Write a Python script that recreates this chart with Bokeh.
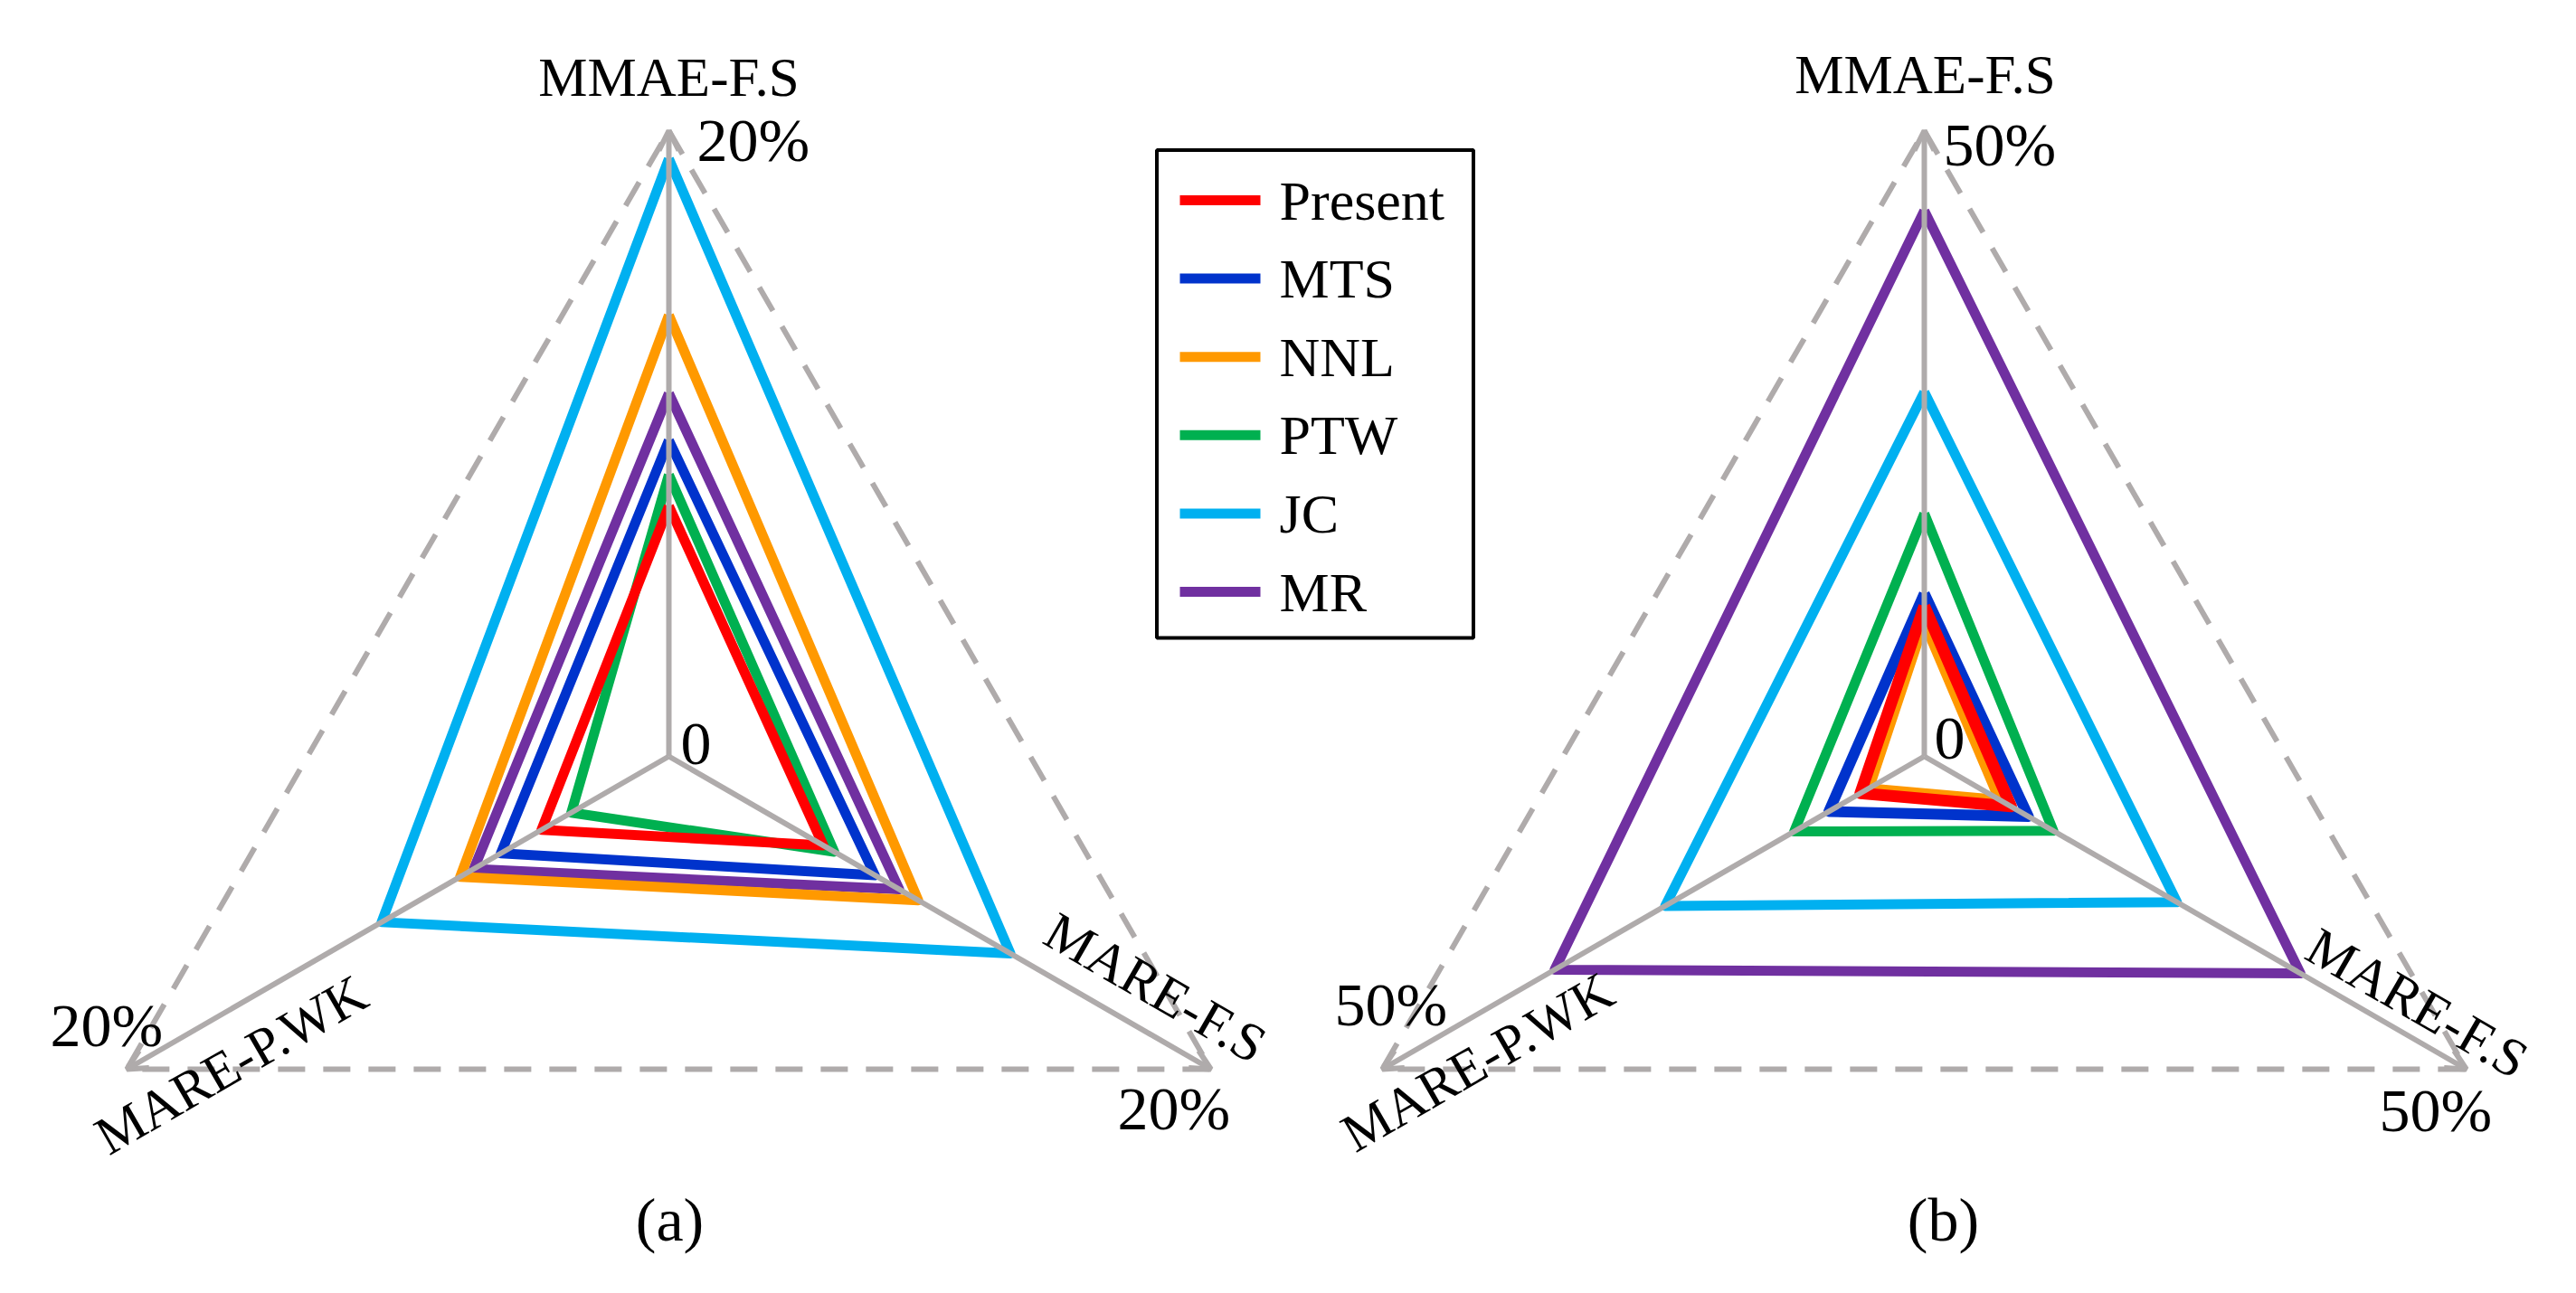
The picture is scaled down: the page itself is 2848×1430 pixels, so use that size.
import numpy as np
from bokeh.plotting import figure
from bokeh.models import Range1d, Arrow, OpenHead
from bokeh.core.properties import value
from bokeh.embed import file_html
from bokeh.resources import INLINE

# ---------------- data ----------------
axis_labels = ["MMAE-F.S", "MARE-F.S", "MARE-P.WK"]
series = ["Present", "MTS", "NNL", "PTW", "JC", "MR"]
colors = ["#FF0000", "#0033CC", "#FF9900", "#00B050", "#00B0F0", "#7030A0"]

# chart (a): values in %, order [MMAE-F.S, MARE-F.S, MARE-P.WK]
a_present = [8.0, 5.7, 4.7]
a_mts = [10.1, 7.6, 6.2]
a_nnl = [14.1, 9.2, 7.7]
a_ptw = [9.0, 6.1, 3.6]
a_jc = [19.1, 12.6, 10.6]
a_mr = [11.6, 8.5, 7.2]
a_max = 20
a_ticks = ["0", "20%"]

# chart (b)
b_present = [12.0, 8.0, 5.9]
b_mts = [13.0, 9.6, 8.8]
b_nnl = [10.5, 6.8, 5.0]
b_ptw = [19.4, 11.9, 12.0]
b_jc = [29.1, 23.3, 23.9]
b_mr = [43.6, 34.7, 34.1]
b_max = 50
b_ticks = ["0", "50%"]

captions = ["(a)", "(b)"]

# ---------------- layout ----------------
H = 1430
PW, PH = 2832, 1414
FONT = value("Liberation Serif")
GRAY = "#AFABAB"
ANGLES = np.deg2rad([90, -30, 210])


def Y(y):  # page pixel row -> data y
    return H - y


p = figure(width=PW, height=PH, x_range=Range1d(0, PW), y_range=Range1d(H - PH, H),
           output_backend="svg", toolbar_location=None, min_border=0,
           background_fill_color="white", border_fill_color="white")
p.xaxis.visible = False
p.yaxis.visible = False
p.grid.visible = False
p.outline_line_color = None

charts = [
    dict(cx=739, cy=836, R=692, vmax=a_max, ticks=a_ticks, caption=captions[0],
         data=[a_present, a_mts, a_nnl, a_ptw, a_jc, a_mr],
         widths=[11, 11, 11, 11, 11, 11],
         title=(739, 85), rot_fs=(1277, 1092), rot_pwk=(255, 1177),
         tick_top=(770, 154), tick_bl=(55, 1133), tick_br=(1235, 1225), zero=(752, 822),
         cap=(740, 1348)),
    dict(cx=2127, cy=836, R=692, vmax=b_max, ticks=b_ticks, caption=captions[1],
         data=[b_present, b_mts, b_nnl, b_ptw, b_jc, b_mr],
         widths=[13, 12, 9, 11, 11, 11],
         title=(2128, 82), rot_fs=(2672, 1109), rot_pwk=(1633, 1174),
         tick_top=(2148, 159), tick_bl=(1475, 1110), tick_br=(2630, 1227), zero=(2138, 816),
         cap=(2148, 1348)),
]

for c in charts:
    cx, cy, R = c["cx"], c["cy"], c["R"]
    tipx = cx + R * np.cos(ANGLES)
    tipy = cy - R * np.sin(ANGLES)
    # dashed outer triangle
    p.line(list(tipx) + [tipx[0]], [Y(v) for v in list(tipy) + [tipy[0]]],
           line_color=GRAY, line_width=6, line_dash="30 20")
    # axes with arrows
    for tx, ty in zip(tipx, tipy):
        p.add_layout(Arrow(x_start=cx, y_start=Y(cy), x_end=tx, y_end=Y(ty),
                           line_color=GRAY, line_width=6,
                           end=OpenHead(size=22, line_color=GRAY, line_width=6)))
    # series polygons (Present drawn last, on top)
    for vals, col, lw in reversed(list(zip(c["data"], colors, c["widths"]))):
        r = np.array(vals) / c["vmax"] * R
        xs = cx + r * np.cos(ANGLES)
        ys = cy - r * np.sin(ANGLES)
        p.line(list(xs) + [xs[0]], [Y(v) for v in list(ys) + [ys[0]]],
               line_color=col, line_width=lw, line_join="round")
    # axis titles
    p.text(x=[c["title"][0]], y=[Y(c["title"][1])], text=[axis_labels[0]],
           text_font=FONT, text_font_size="61px", text_align="center",
           text_baseline="middle", text_color="black")
    p.text(x=[c["rot_fs"][0]], y=[Y(c["rot_fs"][1])], text=[axis_labels[1]],
           angle=-np.pi / 6, text_font=FONT, text_font_size="60px", text_align="center",
           text_baseline="middle", text_color="black")
    p.text(x=[c["rot_pwk"][0]], y=[Y(c["rot_pwk"][1])], text=[axis_labels[2]],
           angle=np.pi / 6, text_font=FONT, text_font_size="60px", text_align="center",
           text_baseline="middle", text_color="black")
    # tick labels
    p.text(x=[c["tick_top"][0], c["tick_bl"][0], c["tick_br"][0], c["zero"][0]],
           y=[Y(c["tick_top"][1]), Y(c["tick_bl"][1]), Y(c["tick_br"][1]), Y(c["zero"][1])],
           text=[c["ticks"][1], c["ticks"][1], c["ticks"][1], c["ticks"][0]],
           text_font=FONT, text_font_size="68px", text_align="left",
           text_baseline="middle", text_color="black")
    # caption
    p.text(x=[c["cap"][0]], y=[Y(c["cap"][1])], text=[c["caption"]],
           text_font=FONT, text_font_size="68px", text_align="center",
           text_baseline="middle", text_color="black")

# ---------------- legend ----------------
lx0, lx1, ly0, ly1 = 1278.5, 1628.5, 165.5, 705
p.quad(left=[lx0], right=[lx1], top=[Y(ly0)], bottom=[Y(ly1)],
       fill_color=None, line_color="black", line_width=4)
row_y = [221 + 86.6 * i for i in range(len(series))]
p.segment(x0=[1304] * len(series), x1=[1393] * len(series),
          y0=[Y(v) for v in row_y], y1=[Y(v) for v in row_y],
          line_color=colors, line_width=11)
p.text(x=[1414] * len(series), y=[Y(v) for v in row_y], text=series,
       text_font=FONT, text_font_size="62px", text_align="left",
       text_baseline="middle", text_color="black")

open("out.html", "w").write(file_html(p, INLINE))
